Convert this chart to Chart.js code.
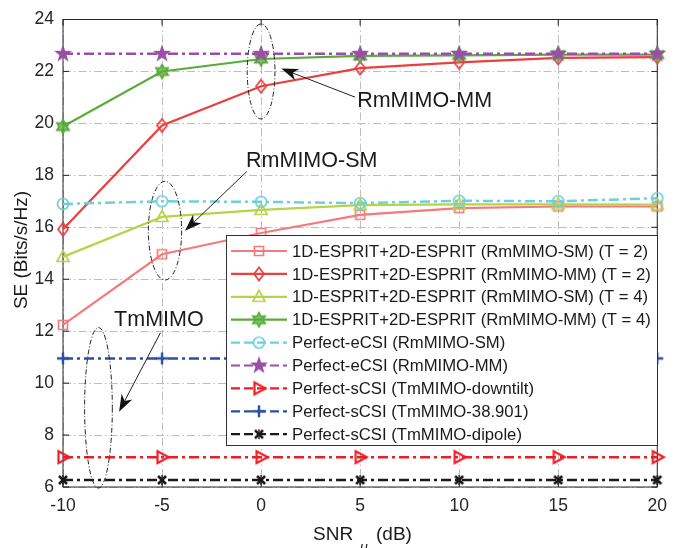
<!DOCTYPE html>
<html>
<head>
<meta charset="utf-8">
<script src="https://cdn.jsdelivr.net/npm/chart.js@4.4.1/dist/chart.umd.min.js"></script>
<style>
  html, body { margin: 0; padding: 0; background: #fff; }
  canvas { display: block; }
</style>
</head>
<body>
<canvas id="c" width="676" height="548"></canvas>
<script>
// values
const snr = [-10, -5, 0, 5, 10, 15, 20];
const espritSmT2 = [12.24, 14.96, 15.78, 16.48, 16.74, 16.8, 16.8];
const espritMmT2 = [15.92, 19.92, 21.43, 22.13, 22.35, 22.52, 22.55];
const espritSmT4 = [14.86, 16.4, 16.67, 16.85, 16.88, 16.88, 16.87];
const espritMmT4 = [19.88, 22.0, 22.48, 22.6, 22.62, 22.65, 22.65];
const eCsiSm = [16.9, 17.0, 16.98, 16.93, 17.02, 17.0, 17.12];
const eCsiMm = [22.68, 22.68, 22.68, 22.68, 22.68, 22.68, 22.68];
const sCsiDowntilt = [7.15, 7.15, 7.15, 7.15, 7.15, 7.15, 7.15];
const sCsi38901 = [10.95, 10.95, 10.95, 10.95, 10.95, 10.95, 10.95];
const sCsiDipole = [6.27, 6.27, 6.27, 6.27, 6.27, 6.27, 6.27];
const xTicks = [-10, -5, 0, 5, 10, 15, 20];
const yTicks = [6, 8, 10, 12, 14, 16, 18, 20, 22, 24];

const labels = [
  '1D-ESPRIT+2D-ESPRIT (RmMIMO-SM) (T = 2)',
  '1D-ESPRIT+2D-ESPRIT (RmMIMO-MM) (T = 2)',
  '1D-ESPRIT+2D-ESPRIT (RmMIMO-SM) (T = 4)',
  '1D-ESPRIT+2D-ESPRIT (RmMIMO-MM) (T = 4)',
  'Perfect-eCSI (RmMIMO-SM)',
  'Perfect-eCSI (RmMIMO-MM)',
  'Perfect-sCSI (TmMIMO-downtilt)',
  'Perfect-sCSI (TmMIMO-38.901)',
  'Perfect-sCSI (TmMIMO-dipole)'
];
const series = [espritSmT2, espritMmT2, espritSmT4, espritMmT4, eCsiSm, eCsiMm, sCsiDowntilt, sCsi38901, sCsiDipole];
const colors = ['#f47a7c', '#e9403f', '#b6d44a', '#5aab3c', '#6fcfdb', '#9a4ea8', '#ee1c25', '#2d4fa0', '#1a1a1a'];
const shapes = ['square', 'diamond', 'triangle', 'hexagram', 'circle', 'pentagram', 'triRight', 'plus', 'asterisk'];
const dashed = [false, false, false, false, true, true, true, true, true];
const DASHDOT = [10, 4, 3, 4];
const FONT = '"Liberation Sans", Arial, Helvetica, sans-serif';

function makeMarker(shape, color) {
  const c = document.createElement('canvas');
  c.width = 24; c.height = 24;
  const g = c.getContext('2d');
  g.translate(12, 12);
  g.strokeStyle = color;
  g.fillStyle = color;
  g.lineWidth = 1.7;
  g.beginPath();
  if (shape === 'square') {
    g.rect(-4.5, -4.5, 9, 9);
    g.stroke();
  } else if (shape === 'diamond') {
    g.moveTo(0, -6.5); g.lineTo(5, 0); g.lineTo(0, 6.5); g.lineTo(-5, 0); g.closePath();
    g.stroke();
  } else if (shape === 'triangle') {
    g.moveTo(0, -6.5); g.lineTo(6, 4.5); g.lineTo(-6, 4.5); g.closePath();
    g.stroke();
  } else if (shape === 'triRight') {
    g.lineWidth = 2.2;
    g.moveTo(6.5, 0); g.lineTo(-4.5, -6); g.lineTo(-4.5, 6); g.closePath();
    g.stroke();
  } else if (shape === 'circle') {
    g.arc(0, 0, 5.5, 0, Math.PI * 2);
    g.stroke();
  } else if (shape === 'pentagram') {
    for (let i = 0; i < 10; i++) {
      const r = i % 2 ? 3.7 : 9.5;
      const a = -Math.PI / 2 + i * Math.PI / 5;
      g.lineTo(r * Math.cos(a), r * Math.sin(a));
    }
    g.closePath();
    g.fill();
  } else if (shape === 'hexagram') {
    for (let i = 0; i < 12; i++) {
      const r = i % 2 ? 3.9 : 7;
      const a = -Math.PI / 2 + i * Math.PI / 6;
      g.lineTo(r * Math.cos(a), r * Math.sin(a));
    }
    g.closePath();
    g.globalAlpha = 0.75;
    g.fill();
    g.globalAlpha = 1;
    g.stroke();
  } else if (shape === 'plus') {
    g.lineWidth = 2.4;
    g.moveTo(-6, 0); g.lineTo(6, 0); g.moveTo(0, -6); g.lineTo(0, 6);
    g.stroke();
  } else if (shape === 'asterisk') {
    g.lineWidth = 2.5;
    g.moveTo(-4, -4); g.lineTo(4, 4); g.moveTo(4, -4); g.lineTo(-4, 4);
    g.stroke();
    g.beginPath();
    g.lineWidth = 1.4;
    g.moveTo(0, -5); g.lineTo(0, 5);
    g.stroke();
  }
  return c;
}

const markers = shapes.map((s, i) => makeMarker(s, colors[i]));

const datasets = series.map((vals, i) => ({
  label: labels[i],
  data: snr.map((x, k) => ({ x: x, y: vals[k] })),
  borderColor: colors[i],
  backgroundColor: colors[i],
  borderWidth: dashed[i] ? 2.5 : 2.2,
  borderDash: dashed[i] ? DASHDOT : [],
  pointStyle: markers[i],
  pointRadius: 6,
  tension: 0,
  clip: false,
  order: series.length - i
}));

// callouts, in data units
const ellipses = [
  { x: 0, y: 22.0, rx: 0.7, ry: 1.83 },
  { x: -4.85, y: 15.87, rx: 0.84, ry: 1.9 },
  { x: -8.21, y: 9.05, rx: 0.7, ry: 3.09 }
];
const arrows = [
  { x0: 4.75, y0: 21.01, x1: 1.02, y1: 22.11 },
  { x0: -0.72, y0: 18.15, x1: -3.84, y1: 15.87 },
  { x0: -5.08, y0: 11.94, x1: -7.17, y1: 8.9 }
];
const notes = [
  { text: 'RmMIMO-MM', x: 4.85, y: 20.63 },
  { text: 'RmMIMO-SM', x: -0.76, y: 18.34 },
  { text: 'TmMIMO', x: -7.42, y: 12.21 }
];

const decor = {
  id: 'decor',
  beforeDraw(chart) {
    const ctx = chart.ctx;
    ctx.save();
    ctx.fillStyle = '#fff';
    ctx.fillRect(0, 0, chart.width, chart.height);
    ctx.restore();
  },
  beforeDatasetsDraw(chart) {
    const { ctx, chartArea: a, scales } = chart;
    ctx.save();
    ctx.strokeStyle = '#262626';
    ctx.lineWidth = 1;
    ctx.strokeRect(a.left, a.top, a.right - a.left, a.bottom - a.top);
    ctx.beginPath();
    xTicks.forEach(v => {
      const px = scales.x.getPixelForValue(v);
      ctx.moveTo(px, a.bottom); ctx.lineTo(px, a.bottom - 6);
      ctx.moveTo(px, a.top); ctx.lineTo(px, a.top + 6);
    });
    yTicks.forEach(v => {
      const py = scales.y.getPixelForValue(v);
      ctx.moveTo(a.left, py); ctx.lineTo(a.left + 6, py);
      ctx.moveTo(a.right, py); ctx.lineTo(a.right - 6, py);
    });
    ctx.stroke();
    ctx.restore();
  },
  afterDatasetsDraw(chart) {
    const { ctx, scales } = chart;
    const X = v => scales.x.getPixelForValue(v);
    const Y = v => scales.y.getPixelForValue(v);
    ctx.save();
    ctx.strokeStyle = '#222';
    ctx.fillStyle = '#111';
    ctx.lineWidth = 1;
    ellipses.forEach(e => {
      const cx = X(e.x), cy = Y(e.y);
      const rx = Math.abs(X(e.x + e.rx) - cx), ry = Math.abs(Y(e.y + e.ry) - cy);
      ctx.setLineDash([5, 2, 1, 2]);
      ctx.beginPath();
      ctx.ellipse(cx, cy, rx, ry, 0, 0, Math.PI * 2);
      ctx.stroke();
    });
    ctx.setLineDash([]);
    arrows.forEach(ar => {
      const x0 = X(ar.x0), y0 = Y(ar.y0), x1 = X(ar.x1), y1 = Y(ar.y1);
      const ang = Math.atan2(y1 - y0, x1 - x0);
      ctx.beginPath();
      ctx.moveTo(x0, y0); ctx.lineTo(x1 - 10 * Math.cos(ang), y1 - 10 * Math.sin(ang));
      ctx.stroke();
      const L = 17, W = 6;
      const bx = x1 - L * Math.cos(ang), by = y1 - L * Math.sin(ang);
      const nx = -Math.sin(ang), ny = Math.cos(ang);
      const mx = x1 - (L - 5) * Math.cos(ang), my = y1 - (L - 5) * Math.sin(ang);
      ctx.beginPath();
      ctx.moveTo(x1, y1);
      ctx.lineTo(bx + nx * W, by + ny * W);
      ctx.lineTo(mx, my);
      ctx.lineTo(bx - nx * W, by - ny * W);
      ctx.closePath();
      ctx.fill();
    });
    ctx.fillStyle = '#1a1a1a';
    ctx.font = '21.5px ' + FONT;
    ctx.textBaseline = 'alphabetic';
    ctx.textAlign = 'left';
    notes.forEach(n => ctx.fillText(n.text, X(n.x), Y(n.y)));
    ctx.restore();
  },
  afterDraw(chart) {
    const ctx = chart.ctx;
    ctx.save();
    // axis titles
    ctx.fillStyle = '#1a1a1a';
    ctx.font = '19px ' + FONT;
    ctx.textBaseline = 'alphabetic';
    ctx.textAlign = 'left';
    ctx.fillText('SNR', 313, 540);
    ctx.fillText('(dB)', 376, 540);
    ctx.font = 'italic 14px ' + FONT;
    ctx.fillText('u', 360, 552);
    ctx.save();
    ctx.translate(27, 250);
    ctx.rotate(-Math.PI / 2);
    ctx.font = '19px ' + FONT;
    ctx.textAlign = 'center';
    ctx.fillText('SE (Bits/s/Hz)', 0, 0);
    ctx.restore();

    // legend box
    const lx = 226, ly = 235, lw = 431, lh = 210;
    ctx.fillStyle = '#fff';
    ctx.fillRect(lx, ly, lw, lh);
    ctx.strokeStyle = '#333';
    ctx.lineWidth = 1;
    ctx.strokeRect(lx + 0.5, ly + 0.5, lw, lh);
    ctx.font = '16.7px ' + FONT;
    ctx.textBaseline = 'middle';
    labels.forEach((lab, i) => {
      const y = 251 + i * 22.9;
      ctx.strokeStyle = colors[i];
      ctx.lineWidth = 2.2;
      ctx.setLineDash(dashed[i] ? [9, 4] : []);
      ctx.beginPath();
      ctx.moveTo(231, y); ctx.lineTo(287, y);
      ctx.stroke();
      ctx.setLineDash([]);
      ctx.drawImage(markers[i], 259 - 12, y - 12);
      ctx.fillStyle = '#1a1a1a';
      ctx.fillText(lab, 292, y + 1);
    });
    ctx.restore();
  }
};

new Chart(document.getElementById('c'), {
  type: 'line',
  data: { datasets: datasets },
  options: {
    responsive: false,
    animation: false,
    devicePixelRatio: 1,
    layout: { padding: { left: 0, right: 9, top: 13.5, bottom: 0 } },
    plugins: { legend: { display: false }, tooltip: { enabled: false } },
    scales: {
      x: {
        type: 'linear',
        min: -10,
        max: 20,
        afterFit: s => { s.height = 61; },
        afterBuildTicks: s => { s.ticks = xTicks.map(v => ({ value: v })); },
        ticks: { color: '#262626', font: { family: FONT, size: 17.5 }, padding: 9, maxRotation: 0 },
        grid: { color: '#bdbdbd', lineWidth: 1, drawTicks: false },
        border: { display: false, dash: [8, 3, 1.5, 3] }
      },
      y: {
        type: 'linear',
        min: 6,
        max: 24,
        afterFit: s => { s.width = 63; },
        afterBuildTicks: s => { s.ticks = yTicks.map(v => ({ value: v })); },
        ticks: { color: '#262626', font: { family: FONT, size: 17.5 }, padding: 9 },
        grid: { color: '#bdbdbd', lineWidth: 1, drawTicks: false },
        border: { display: false, dash: [8, 3, 1.5, 3] }
      }
    }
  },
  plugins: [decor]
});
</script>
</body>
</html>
